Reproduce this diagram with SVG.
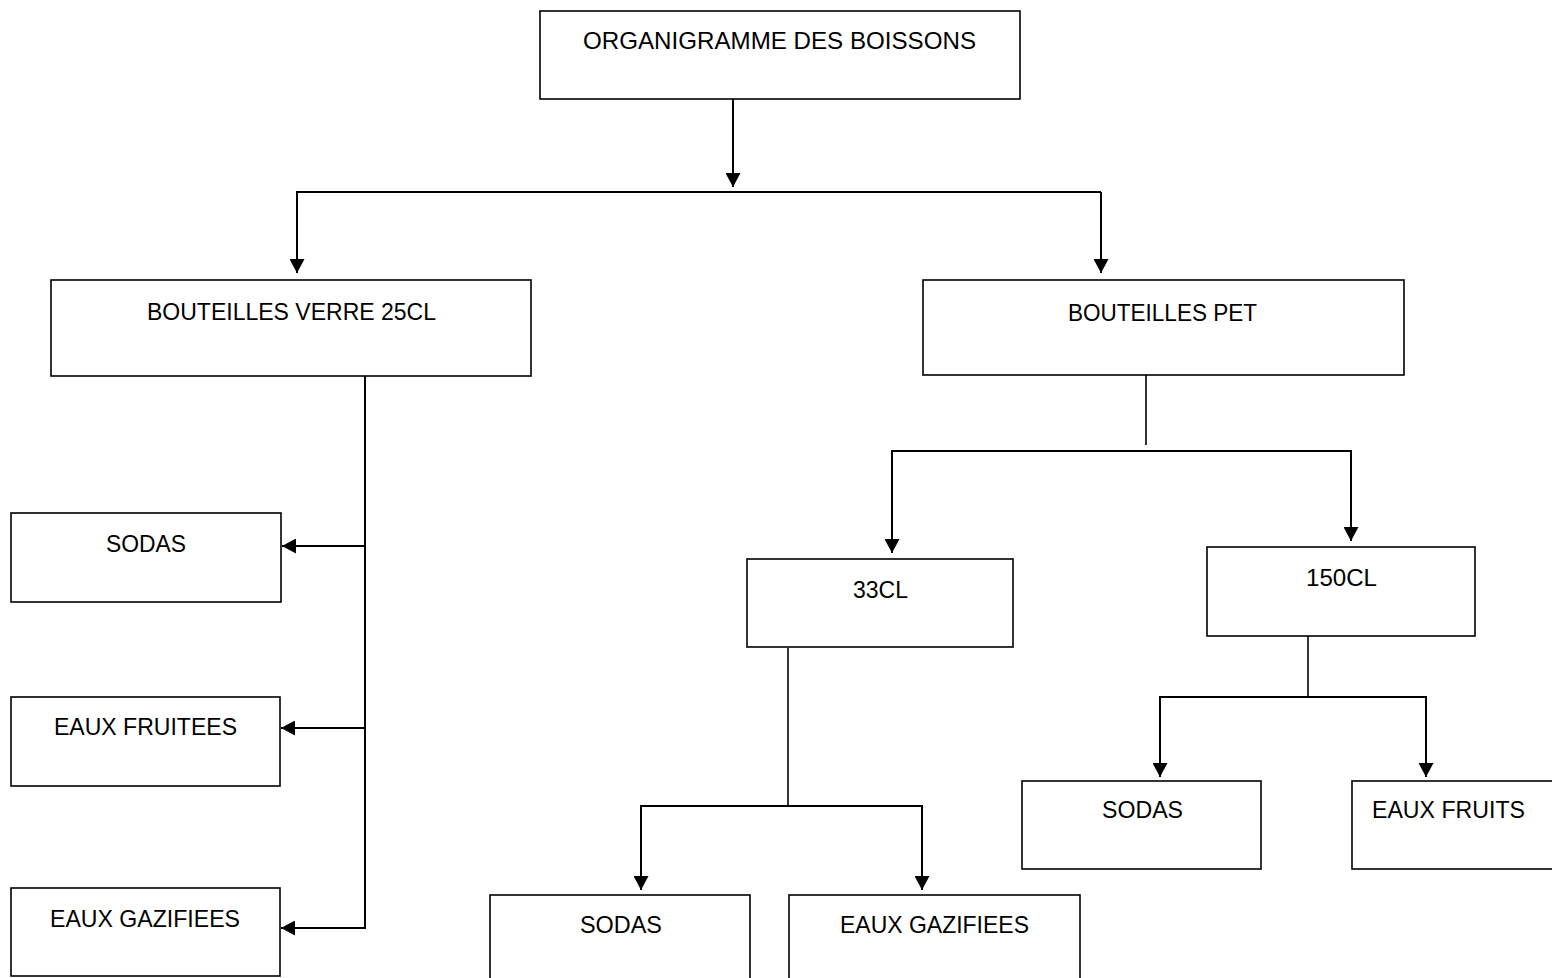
<svg xmlns="http://www.w3.org/2000/svg" width="1552" height="978" viewBox="0 0 1552 978">
  <style>
    .box { fill: #ffffff; stroke: #000000; stroke-width: 1.6; }
    .lbl { font-family: "Liberation Sans", Arial, sans-serif; font-size: 24px; fill: #000000; text-anchor: middle; }
    .wire { fill: none; stroke: #000000; stroke-width: 2; }
    .thin { fill: none; stroke: #000000; stroke-width: 1.6; }
    .arrow { fill: none; stroke: #000000; stroke-width: 2; marker-end: url(#head); }
  </style>
  <defs>
    <marker id="head" markerUnits="userSpaceOnUse" markerWidth="15" markerHeight="15" refX="14" refY="7.5" orient="auto">
      <path d="M0,0 L14,7.5 L0,15 Z" fill="#000000"/>
    </marker>
  </defs>
  <rect width="1552" height="978" fill="#ffffff"/>

  <!-- connectors -->
  <g id="connectors">
    <!-- root to level 1 -->
    <path class="arrow" d="M733,99 V187"/>
    <path class="wire" d="M296,192 H1101"/>
    <path class="arrow" d="M297,192 V273"/>
    <path class="arrow" d="M1101,192 V273"/>
    <!-- glass bottles to its three children -->
    <path class="wire" d="M365,372 V929"/>
    <path class="arrow" d="M365,546 H282"/>
    <path class="arrow" d="M365,728 H281"/>
    <path class="arrow" d="M366,928 H281"/>
    <!-- PET bottles to formats -->
    <path class="thin" d="M1146,362 V445"/>
    <path class="wire" d="M891,451 H1352"/>
    <path class="arrow" d="M892,451 V553"/>
    <path class="arrow" d="M1351,451 V541"/>
    <!-- 33CL to its children -->
    <path class="thin" d="M788,648 V806"/>
    <path class="wire" d="M640,806 H923"/>
    <path class="arrow" d="M641,806 V890"/>
    <path class="arrow" d="M922,806 V890"/>
    <!-- 150CL to its children -->
    <path class="thin" d="M1308,632 V697"/>
    <path class="wire" d="M1159,697 H1427"/>
    <path class="arrow" d="M1160,697 V777"/>
    <path class="arrow" d="M1426,697 V777"/>
  </g>

  <g id="root">
    <rect class="box" x="540" y="11" width="480" height="88"/>
    <text class="lbl" x="779.5" y="49" textLength="393" lengthAdjust="spacingAndGlyphs">ORGANIGRAMME DES BOISSONS</text>
  </g>
  <g id="verre-25cl">
    <rect class="box" x="51" y="280" width="480" height="96"/>
    <text class="lbl" x="291.5" y="320" textLength="289" lengthAdjust="spacingAndGlyphs">BOUTEILLES VERRE 25CL</text>
  </g>
  <g id="pet">
    <rect class="box" x="923" y="280" width="481" height="95"/>
    <text class="lbl" x="1162.5" y="321" textLength="189" lengthAdjust="spacingAndGlyphs">BOUTEILLES PET</text>
  </g>
  <g id="verre-sodas">
    <rect class="box" x="11" y="513" width="270" height="89"/>
    <text class="lbl" x="146" y="552" textLength="80" lengthAdjust="spacingAndGlyphs">SODAS</text>
  </g>
  <g id="verre-eaux-fruitees">
    <rect class="box" x="11" y="697" width="269" height="89"/>
    <text class="lbl" x="145.5" y="735" textLength="183" lengthAdjust="spacingAndGlyphs">EAUX FRUITEES</text>
  </g>
  <g id="verre-eaux-gazifiees">
    <rect class="box" x="11" y="888" width="269" height="88"/>
    <text class="lbl" x="145" y="927" textLength="190" lengthAdjust="spacingAndGlyphs">EAUX GAZIFIEES</text>
  </g>
  <g id="pet-33cl">
    <rect class="box" x="747" y="559" width="266" height="88"/>
    <text class="lbl" x="880.5" y="598" textLength="55" lengthAdjust="spacingAndGlyphs">33CL</text>
  </g>
  <g id="pet-150cl">
    <rect class="box" x="1207" y="547" width="268" height="89"/>
    <text class="lbl" x="1341.5" y="586" textLength="71" lengthAdjust="spacingAndGlyphs">150CL</text>
  </g>
  <g id="pet33-sodas">
    <rect class="box" x="490" y="895" width="260" height="95"/>
    <text class="lbl" x="621" y="933" textLength="82" lengthAdjust="spacingAndGlyphs">SODAS</text>
  </g>
  <g id="pet33-eaux-gazifiees">
    <rect class="box" x="789" y="895" width="291" height="95"/>
    <text class="lbl" x="934.5" y="933" textLength="189" lengthAdjust="spacingAndGlyphs">EAUX GAZIFIEES</text>
  </g>
  <g id="pet150-sodas">
    <rect class="box" x="1022" y="781" width="239" height="88"/>
    <text class="lbl" x="1142.5" y="818" textLength="81" lengthAdjust="spacingAndGlyphs">SODAS</text>
  </g>
  <g id="pet150-eaux-fruits">
    <rect class="box" x="1352" y="781" width="210" height="88"/>
    <text class="lbl" x="1448.5" y="818" textLength="153" lengthAdjust="spacingAndGlyphs">EAUX FRUITS</text>
  </g>
</svg>
